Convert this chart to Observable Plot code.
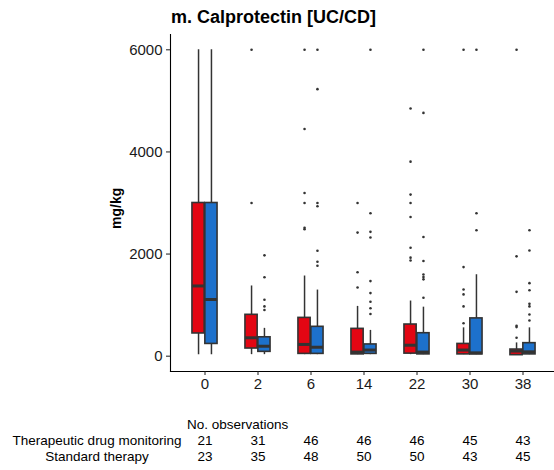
<!DOCTYPE html>
<html>
<head>
<meta charset="utf-8">
<script src="https://cdn.jsdelivr.net/npm/d3@7"></script>
<script src="https://cdn.jsdelivr.net/npm/@observablehq/plot@0.6"></script>
<style>
  body { margin: 0; background: #fff; font-family: "Liberation Sans", Arial, sans-serif; }
  #title { height: 34px; line-height: 34px; padding-left: 171px; font-weight: bold; font-size: 18px; color: #000; white-space: nowrap; }
</style>
</head>
<body>
<div id="title">m. Calprotectin [UC/CD]</div>
<div id="chart"></div>
<script>
// Visits (weeks) and treatment arms
const visits = ["0", "2", "6", "14", "22", "30", "38"];
const groups = ["Therapeutic drug monitoring", "Standard therapy"];

// Box summaries per visit, mg/kg — therapeutic drug monitoring
const tdmLow    = [30, 30, 30, 30, 30, 30, 20];
const tdmQ1     = [445, 150, 45, 35, 50, 35, 20];
const tdmMedian = [1375, 360, 230, 80, 215, 120, 100];
const tdmQ3     = [3000, 810, 750, 535, 620, 240, 130];
const tdmHigh   = [6000, 1375, 1570, 975, 1080, 555, 260];
const tdmOutliers = [
  [],
  [3000, 6000],
  [2485, 2515, 3000, 3195, 4450, 6000],
  [1345, 1645, 2420, 3000],
  [1875, 1930, 2125, 2725, 3000, 3165, 3810, 4850],
  [645, 975, 1210, 1305, 1745, 6000],
  [360, 570, 595, 1260, 1955, 6000]
];

// Box summaries per visit, mg/kg — standard therapy
const stdLow    = [30, 30, 30, 30, 30, 30, 30];
const stdQ1     = [240, 85, 45, 45, 35, 35, 35];
const stdMedian = [1110, 195, 175, 120, 80, 65, 85];
const stdQ3     = [3000, 370, 575, 230, 450, 740, 255];
const stdHigh   = [6000, 545, 1295, 505, 960, 1595, 555];
const stdOutliers = [
  [],
  [905, 975, 1105, 1545, 1975],
  [1770, 1850, 2065, 2935, 3000, 5230, 6000],
  [825, 940, 1065, 1235, 1470, 2325, 2435, 2800, 6000],
  [1145, 1505, 1550, 1600, 1865, 2335, 4765, 6000],
  [2465, 2800, 6000],
  [700, 815, 975, 1025, 1290, 1430, 2070, 2465]
];

// Number of observations per visit
const tdmN = [21, 31, 46, 46, 46, 45, 43];
const stdN = [23, 35, 48, 50, 50, 43, 45];

// y-axis ticks
const yTicks = [0, 2000, 4000, 6000];

const colors = ["#E30613", "#1D71CC"];
const ink = "#333333";
const half = 6.45; // half of a box width, used to dodge the two arms

const series = [
  {group: groups[0], low: tdmLow, q1: tdmQ1, med: tdmMedian, q3: tdmQ3, high: tdmHigh, out: tdmOutliers, n: tdmN, dx: -half},
  {group: groups[1], low: stdLow, q1: stdQ1, med: stdMedian, q3: stdQ3, high: stdHigh, out: stdOutliers, n: stdN, dx: half}
];

const marks = [];
for (const s of series) {
  const boxes = visits.map((v, i) => ({
    visit: v, group: s.group,
    low: s.low[i], q1: s.q1[i], med: s.med[i], q3: s.q3[i], high: s.high[i]
  }));
  const outs = visits.flatMap((v, i) => s.out[i].map(value => ({visit: v, group: s.group, value})));
  marks.push(
    Plot.ruleX(boxes, {x: "visit", y1: "low", y2: "high", stroke: ink, strokeWidth: 1.5, dx: s.dx}),
    Plot.barY(boxes, {x: "visit", y1: "q1", y2: "q3", fill: "group", stroke: ink, strokeWidth: 1.6, dx: s.dx, insetLeft: 0.4, insetRight: 0.4}),
    Plot.tickY(boxes, {x: "visit", y: "med", stroke: ink, strokeWidth: 3, dx: s.dx, insetLeft: 0.4, insetRight: 0.4}),
    Plot.dot(outs, {x: "visit", y: "value", r: 1.3, fill: ink, stroke: null, dx: s.dx})
  );
}

// Observation counts table under the axis
const counts = visits.map((v, i) => ({visit: v, tdm: tdmN[i], std: stdN[i]}));
const tableFont = {fontSize: 13.5, fill: "#000", lineAnchor: "middle", frameAnchor: "bottom"};

const chart = Plot.plot({
  width: 554,
  height: 436,
  marginLeft: 170,
  marginRight: -3,
  marginTop: 0,
  marginBottom: 99,
  style: {fontFamily: "'Liberation Sans', Arial, sans-serif", background: "#fff", color: "#000"},
  x: {type: "band", domain: visits, paddingInner: 0.76, paddingOuter: 0.48},
  y: {domain: [-300, 6300]},
  color: {domain: groups, range: colors},
  marks: [
    ...marks,
    Plot.frame({anchor: "left", stroke: "#000", strokeWidth: 1.1}),
    Plot.frame({anchor: "bottom", stroke: "#000", strokeWidth: 1.1}),
    Plot.axisY({ticks: yTicks, tickFormat: d => String(d), tickSize: 4, tickPadding: 4, fontSize: 15, label: null, color: "#1a1a1a"}),
    Plot.axisX({tickSize: 4, tickPadding: 3, fontSize: 15, label: null, color: "#1a1a1a"}),
    Plot.text(["mg/kg"], {text: d => d, frameAnchor: "left", rotate: -90, dx: -54, dy: 26, fontWeight: "bold", fontSize: 14, fill: "#000"}),
    Plot.text(["No. observations"], {text: d => d, x: () => visits[0], textAnchor: "start", dx: -18, dy: 53.5, ...tableFont}),
    Plot.text([groups[0]], {text: d => d, x: () => visits[0], textAnchor: "middle", dx: -108, dy: 69.5, ...tableFont}),
    Plot.text([groups[1]], {text: d => d, x: () => visits[0], textAnchor: "middle", dx: -108, dy: 85.5, ...tableFont}),
    Plot.text(counts, {x: "visit", text: "tdm", dy: 69.5, ...tableFont}),
    Plot.text(counts, {x: "visit", text: "std", dy: 85.5, ...tableFont})
  ]
});
document.getElementById("chart").appendChild(chart);
</script>
</body>
</html>
